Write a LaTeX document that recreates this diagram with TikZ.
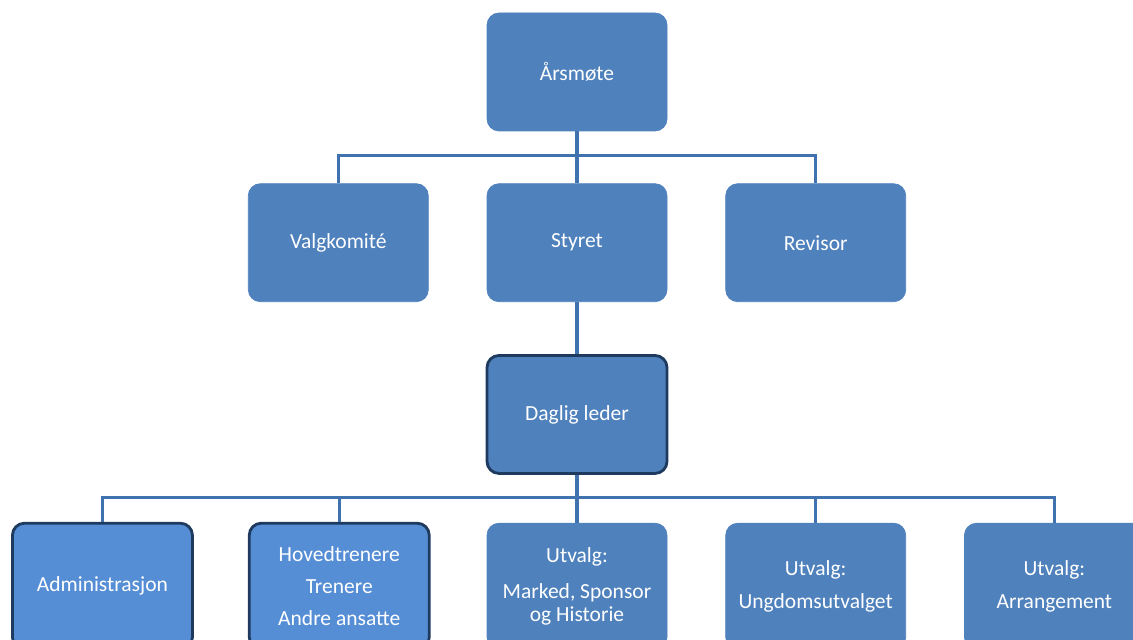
\documentclass[tikz,border=0pt]{standalone}
\usepackage{fontspec}
\setmainfont{Carlito}
\usetikzlibrary{positioning, calc}
\definecolor{boxblue}{HTML}{4F81BD}
\definecolor{lightblue}{HTML}{558ED5}
\definecolor{darkrim}{HTML}{1F3A5F}
\definecolor{linkblue}{HTML}{3F72AE}
\tikzset{
unit/.style={rectangle, rounded corners=0.3cm, fill=boxblue, draw=boxblue, line width=0.5pt, text=white, minimum width=4.5cm, minimum height=2.95cm, inner sep=0pt, align=center, font=\fontsize{15.3}{23}\selectfont}, % plain box
keyunit/.style={unit, draw=darkrim, line width=2pt}, % box with dark rim
staffunit/.style={keyunit, fill=lightblue}, % lighter box with dark rim
lowrow/.style={minimum height=3.15cm}, % bottom row runs off the page
link/.style={draw=linkblue, line width=2.2pt}, % the connecting lines
node distance=1.45cm, % gap between boxes on a row
}
\begin{document}
\begin{tikzpicture}
\useasboundingbox (0,0) rectangle (28.325,-16);
\clip (0,0) rectangle (28.325,-16);
\node[unit] (aarsmote) at (14.425,-1.8) {Årsmøte};
\node[unit, below=1.3cm of aarsmote] (styret) {Styret};
\node[unit, left=of styret] (valgkomite) {Valgkomité};
\node[unit, right=of styret] (revisor) {Revisor};
\node[keyunit, below=1.3cm of styret] (daglig) {Daglig leder};
\node[unit, lowrow, below=1.2cm of daglig] (marked) {Utvalg:\\[2.5pt]Marked, Sponsor\\[-6.7pt]og Historie};
\node[staffunit, lowrow, left=1.4cm of marked] (trenere) {Hovedtrenere\\Trenere\\Andre ansatte};
\node[staffunit, lowrow, left=1.35cm of trenere] (admin) {Administrasjon};
\node[unit, lowrow, right=of marked] (ungdom) {Utvalg:\\Ungdomsutvalget};
\node[unit, lowrow, right=of ungdom] (arrangement) {Utvalg:\\Arrangement};
\coordinate (topbus) at ($(aarsmote.south)!0.46!(styret.north)$);
\coordinate (lowbus) at ($(daglig.south)!0.48!(marked.north)$);
\draw[link] (aarsmote) -- (styret);
\draw[link] (valgkomite) |- (topbus) -| (revisor);
\draw[link] (styret) -- (daglig);
\draw[link] (daglig) -- (marked);
\draw[link] (admin) |- (lowbus) -| (arrangement);
\draw[link] (trenere) |- (lowbus);
\draw[link] (ungdom) |- (lowbus);
\end{tikzpicture}
\end{document}
